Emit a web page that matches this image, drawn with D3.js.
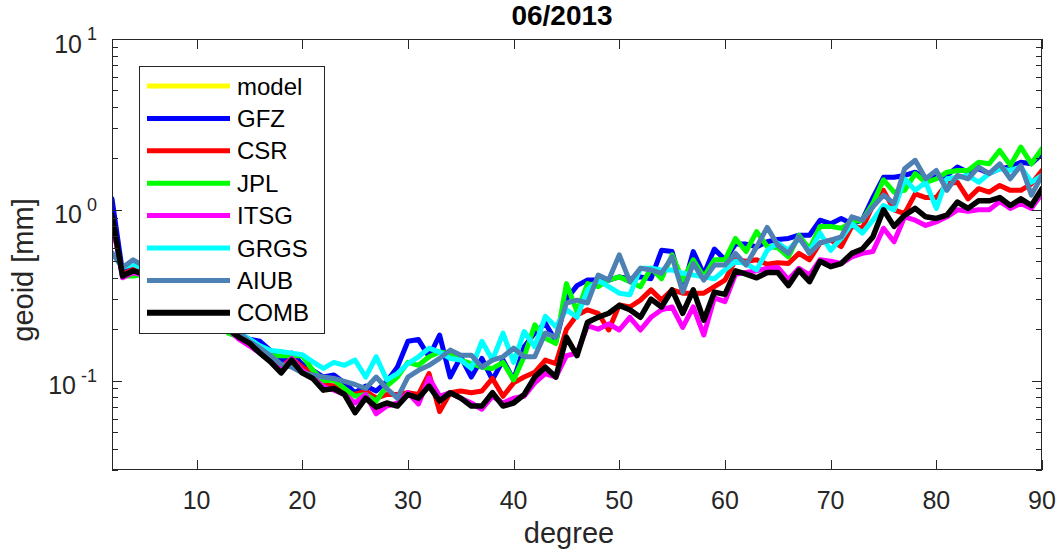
<!DOCTYPE html>
<html>
<head>
<meta charset="utf-8">
<script src="https://cdn.jsdelivr.net/npm/d3@7"></script>
<style>
  html, body { margin: 0; padding: 0; background: #fff; }
  svg { display: block; }
  text { font-family: "Liberation Sans", Arial, Helvetica, sans-serif; }
</style>
</head>
<body>
<svg id="chart" width="1056" height="556"></svg>
<script>
// ---------------- data ----------------
const title = "06/2013";
const xLabel = "degree";
const yLabel = "geoid [mm]";
const degrees = d3.range(2, 91);            // 2 .. 90
const xTicks = [10, 20, 30, 40, 50, 60, 70, 80, 90];
const yMajorTicks = [0.1, 1, 10];
const yTickExponents = ["-1", "0", "1"];

const seriesNames = ["model", "GFZ", "CSR", "JPL", "ITSG", "GRGS", "AIUB", "COMB"];
const seriesColors = ["#ffff00", "#0000ff", "#ff0000", "#00ff00", "#ff00ff", "#00ffff", "#4d80b3", "#000000"];

// model curve is not visible in the plot (legend only)
const model = [];

const GFZ = [1.16,0.43,0.46,0.44,0.40,0.37,0.34,0.31,0.28,0.26,0.23,0.21,0.19,0.175,0.17,0.15,0.13,0.145,0.125,0.115,0.105,
  0.108,0.097,0.085,0.093,0.087,0.099,0.12,0.17,0.174,0.138,0.185,0.105,0.138,0.105,0.135,0.101,0.132,0.101,0.158,0.19,0.217,0.17,
  0.30,0.36,0.388,0.388,0.388,0.405,0.395,0.405,0.395,0.58,0.57,0.34,0.57,0.42,0.59,0.51,0.63,0.63,0.607,
  0.65,0.67,0.68,0.71,0.71,0.87,0.83,0.89,0.83,0.87,1.18,1.55,1.55,1.59,1.66,1.52,1.55,1.59,1.78,1.66,1.74,1.63,1.74,1.78,1.90,1.86,2.13];

const CSR = [0.85,0.42,0.45,0.42,0.38,0.36,0.33,0.30,0.28,0.25,0.23,0.20,0.18,0.165,0.15,0.135,0.12,0.135,0.12,0.11,0.095,
  0.093,0.085,0.083,0.087,0.079,0.083,0.083,0.085,0.083,0.11,0.066,0.085,0.087,0.085,0.087,0.103,0.081,0.097,0.105,0.112,0.132,0.126,
  0.20,0.242,0.26,0.248,0.198,0.277,0.27,0.296,0.34,0.296,0.34,0.325,0.325,0.325,0.355,0.388,0.51,0.50,0.51,
  0.48,0.49,0.485,0.556,0.51,0.64,0.665,0.61,0.80,0.78,1.06,1.30,1.0,0.95,1.24,1.18,1.18,1.42,1.45,1.16,1.33,1.27,1.39,1.30,1.30,1.42,1.70];

const JPL = [0.90,0.41,0.41,0.42,0.38,0.35,0.32,0.29,0.27,0.24,0.22,0.19,0.18,0.165,0.15,0.14,0.14,0.14,0.14,0.115,0.10,
  0.101,0.09,0.081,0.083,0.076,0.093,0.105,0.128,0.123,0.138,0.147,0.144,0.132,0.126,0.12,0.118,0.128,0.101,0.138,0.212,0.177,0.165,
  0.37,0.254,0.37,0.355,0.388,0.405,0.38,0.355,0.455,0.395,0.545,0.388,0.51,0.405,0.51,0.51,0.68,0.57,0.745,
  0.61,0.60,0.53,0.71,0.59,0.80,0.80,0.78,0.85,0.87,1.09,1.50,1.27,1.30,1.63,1.45,1.52,1.66,1.70,1.70,1.90,1.86,2.23,1.82,2.33,1.86,2.28];

const ITSG = [0.88,0.40,0.43,0.41,0.37,0.35,0.32,0.29,0.27,0.24,0.22,0.20,0.175,0.16,0.145,0.13,0.115,0.135,0.115,0.105,0.092,
  0.088,0.083,0.074,0.083,0.064,0.071,0.074,0.085,0.073,0.104,0.081,0.085,0.079,0.074,0.068,0.081,0.074,0.079,0.081,0.097,0.11,0.105,
  0.14,0.145,0.21,0.20,0.215,0.198,0.235,0.198,0.235,0.26,0.27,0.205,0.27,0.185,0.305,0.29,0.42,0.43,0.44,
  0.455,0.46,0.39,0.455,0.415,0.51,0.50,0.485,0.53,0.556,0.57,0.78,0.65,0.91,0.87,0.81,0.85,0.91,1.0,0.98,1.0,1.0,1.12,1.02,1.09,1.02,1.25];

const GRGS = [0.56,0.46,0.48,0.45,0.41,0.37,0.34,0.30,0.27,0.24,0.22,0.20,0.19,0.175,0.16,0.15,0.148,0.145,0.142,0.129,0.118,
  0.128,0.123,0.132,0.105,0.138,0.101,0.11,0.126,0.138,0.155,0.147,0.135,0.132,0.118,0.17,0.132,0.19,0.128,0.194,0.158,0.238,0.207,
  0.26,0.235,0.34,0.388,0.355,0.325,0.318,0.455,0.455,0.445,0.445,0.425,0.415,0.405,0.395,0.445,0.50,0.485,0.445,
  0.58,0.64,0.58,0.68,0.57,0.73,0.58,0.68,0.83,0.73,0.87,1.06,1.0,1.52,1.30,1.45,1.02,1.52,1.55,1.59,1.45,1.63,1.74,1.70,1.78,1.45,1.59];

const AIUB = [0.56,0.46,0.51,0.47,0.42,0.38,0.34,0.31,0.28,0.25,0.22,0.20,0.19,0.17,0.155,0.14,0.125,0.12,0.111,0.108,0.105,
  0.103,0.099,0.095,0.09,0.105,0.09,0.079,0.105,0.115,0.123,0.135,0.151,0.141,0.141,0.12,0.132,0.138,0.155,0.138,0.138,0.19,0.18,
  0.285,0.296,0.285,0.415,0.388,0.545,0.38,0.455,0.445,0.425,0.53,0.33,0.485,0.388,0.475,0.475,0.555,0.475,0.607,
  0.79,0.62,0.556,0.695,0.556,0.64,0.665,0.695,0.91,0.87,1.04,1.22,1.09,1.74,1.95,1.52,1.70,1.30,1.59,1.52,1.78,1.63,1.86,1.52,1.82,1.22,1.59];

const COMB = [0.93,0.41,0.44,0.42,0.38,0.36,0.33,0.30,0.27,0.25,0.23,0.20,0.18,0.166,0.145,0.129,0.111,0.132,0.111,0.103,0.088,
  0.09,0.083,0.065,0.079,0.07,0.074,0.071,0.083,0.079,0.093,0.076,0.085,0.079,0.071,0.071,0.085,0.071,0.074,0.083,0.105,0.12,0.105,
  0.18,0.14,0.22,0.235,0.248,0.276,0.26,0.235,0.30,0.27,0.34,0.248,0.34,0.226,0.33,0.32,0.44,0.42,0.40,
  0.43,0.43,0.36,0.444,0.38,0.50,0.465,0.485,0.556,0.59,0.695,1.0,0.80,0.93,1.02,0.91,0.89,0.93,1.11,1.02,1.13,1.13,1.18,1.06,1.16,1.06,1.33];

const seriesValues = [model, GFZ, CSR, JPL, ITSG, GRGS, AIUB, COMB];

// ---------------- layout ----------------
const svg = d3.select("#chart");
const L = 112, R = 1042, T = 39, B = 470;
const axisColor = "#262626";

const x = d3.scaleLinear().domain([2, 90]).range([L, R]);
const y = d3.scaleLog().domain([0.03, 10]).range([B, T]);

svg.append("rect").attr("x", L).attr("y", T).attr("width", R - L).attr("height", B - T).attr("fill", "#fff");

svg.append("defs").append("clipPath").attr("id", "clip")
  .append("rect").attr("x", L).attr("y", T).attr("width", R - L).attr("height", B - T);

const line = d3.line()
  .x((d, i) => x(degrees[i]))
  .y(d => y(d));

const lg = svg.append("g").attr("clip-path", "url(#clip)");
seriesValues.forEach((vals, k) => {
  if (!vals.length) return;
  lg.append("path")
    .attr("d", line(vals))
    .attr("fill", "none")
    .attr("stroke", seriesColors[k])
    .attr("stroke-width", k === 7 ? 5.5 : 5)
    .attr("stroke-linejoin", "round")
    .attr("stroke-linecap", "round");
});

// axes box with inward ticks on all four sides
const ag = svg.append("g").attr("stroke", axisColor).attr("stroke-width", 1).attr("fill", "none");
ag.append("rect").attr("x", L + 0.5).attr("y", T + 0.5).attr("width", R - L - 1).attr("height", B - T - 1);

const majorLen = 10, minorLen = 6;
xTicks.forEach(t => {
  const px = Math.round(x(t)) + 0.5;
  ag.append("line").attr("x1", px).attr("x2", px).attr("y1", B).attr("y2", B - majorLen);
  ag.append("line").attr("x1", px).attr("x2", px).attr("y1", T).attr("y2", T + majorLen);
});

const yAllTicks = [];
[-2, -1, 0].forEach(e => {
  for (let m = 1; m <= 9; m++) {
    const v = m * Math.pow(10, e);
    if (v >= 0.03 - 1e-9 && v <= 10 + 1e-9) yAllTicks.push({ v, major: m === 1 });
  }
});
yAllTicks.push({ v: 10, major: true });
yAllTicks.forEach(t => {
  const py = Math.round(y(t.v)) + 0.5;
  const len = t.major ? majorLen : minorLen;
  ag.append("line").attr("x1", L).attr("x2", L + len).attr("y1", py).attr("y2", py);
  ag.append("line").attr("x1", R).attr("x2", R - len).attr("y1", py).attr("y2", py);
});

// x tick labels
const tickFont = 25;
svg.append("g").selectAll("text").data(xTicks).join("text")
  .attr("x", d => x(d))
  .attr("y", 509)
  .attr("text-anchor", "middle")
  .attr("font-size", tickFont)
  .attr("fill", axisColor)
  .text(d => d);

// y tick labels 10^k
yMajorTicks.forEach((v, i) => {
  const t = svg.append("text")
    .attr("x", 97)
    .attr("y", y(v) + 13.5)
    .attr("text-anchor", "end")
    .attr("font-size", tickFont)
    .attr("fill", axisColor);
  t.append("tspan").text("10");
  t.append("tspan").attr("dx", 5).attr("dy", -12.5).attr("font-size", 18).text(yTickExponents[i]);
});

// axis labels
svg.append("text")
  .attr("x", 569).attr("y", 543)
  .attr("text-anchor", "middle")
  .attr("font-size", 29)
  .attr("fill", axisColor)
  .text(xLabel);

svg.append("text")
  .attr("transform", "translate(33,270) rotate(-90)")
  .attr("text-anchor", "middle")
  .attr("font-size", 29)
  .attr("fill", axisColor)
  .text(yLabel);

// title
svg.append("text")
  .attr("x", 562).attr("y", 25)
  .attr("text-anchor", "middle")
  .attr("font-size", 28)
  .attr("font-weight", "bold")
  .attr("fill", "#000")
  .text(title);

// legend
const lgX = 139, lgY = 66, lgW = 185, lgH = 267;
const leg = svg.append("g");
leg.append("rect").attr("x", lgX + 0.5).attr("y", lgY + 0.5).attr("width", lgW).attr("height", lgH)
  .attr("fill", "#fff").attr("stroke", axisColor).attr("stroke-width", 1);
seriesNames.forEach((name, i) => {
  const cy = 86 + i * 32.4;
  leg.append("line")
    .attr("x1", 147).attr("x2", 230).attr("y1", cy).attr("y2", cy)
    .attr("stroke", seriesColors[i]).attr("stroke-width", i === 7 ? 6 : 5);
  leg.append("text")
    .attr("x", 237).attr("y", cy + 8.5)
    .attr("font-size", 24)
    .attr("fill", "#000")
    .text(name);
});
</script>
</body>
</html>
